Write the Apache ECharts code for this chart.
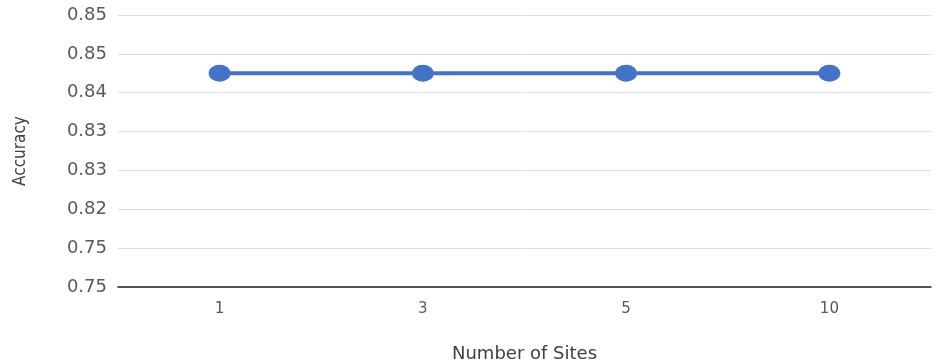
<!DOCTYPE html>
<html>
<head>
<meta charset="utf-8">
<script src="https://cdn.jsdelivr.net/npm/echarts@6/dist/echarts.min.js"></script>
<style>
    html, body { margin: 0; padding: 0; background: #fff; }
    #chart { width: 943px; height: 364px; }
</style>
</head>
<body>
<div id="chart"></div>
<script>

// Chart data
var sites = ['1', '3', '5', '10'];
var accuracy = [0.845, 0.845, 0.845, 0.845];
var yTickLabels = ['0.75', '0.75', '0.82', '0.83', '0.83', '0.84', '0.85', '0.85'];

// Map an accuracy value to its position on the (rounded-label) y axis
var toAxis = function(v) {
    var t = yTickLabels.map(Number);
    for (var i = 0; i < t.length - 1; i++) {
        if (t[i] < t[i + 1] && v >= t[i] && v <= t[i + 1]) {
            return i + (v - t[i]) / (t[i + 1] - t[i]);
        }
    }
    return 0;
};

var chart = echarts.init(document.getElementById('chart'), null, { renderer: 'canvas' });

var options = {
    animation: false,
    textStyle: {
        fontFamily: 'DejaVu Sans'
    },
    grid: {
        left: 118,
        right: 12,
        top: 15,
        bottom: 77,
        containLabel: false,
        outerBoundsMode: 'none'
    },
    xAxis: {
        type: 'category',
        data: sites,
        boundaryGap: true,
        name: 'Number of Sites',
        nameLocation: 'middle',
        nameGap: 58,
        nameTextStyle: {
            fontFamily: 'DejaVu Sans',
            fontSize: 18,
            color: '#404040'
        },
        axisLine: { lineStyle: { color: '#222', width: 1.5 } },
        axisTick: { show: false },
        axisLabel: {
            margin: 15,
            fontFamily: 'DejaVu Sans',
            fontSize: 15,
            color: '#595959'
        }
    },
    yAxis: {
        type: 'value',
        min: 0,
        max: yTickLabels.length - 1,
        interval: 1,
        name: 'Accuracy',
        nameLocation: 'middle',
        nameGap: 89,
        nameRotate: 90,
        nameTextStyle: {
            fontFamily: 'DejaVu Sans Condensed',
            fontSize: 17,
            color: '#404040'
        },
        axisLine: { show: false },
        axisTick: { show: false },
        axisLabel: {
            margin: 11,
            fontFamily: 'DejaVu Sans',
            fontSize: 18,
            color: '#595959',
            formatter: function(v) { return yTickLabels[v]; }
        },
        splitLine: { lineStyle: { color: '#dedede', width: 1 } }
    },
    series: [{
        type: 'line',
        data: accuracy.map(toAxis),
        symbol: 'circle',
        symbolSize: [22, 17],
        lineStyle: { color: '#4472c4', width: 4 },
        itemStyle: { color: '#4472c4' }
    }]
};

chart.setOption(options);
</script>
</body>
</html>
